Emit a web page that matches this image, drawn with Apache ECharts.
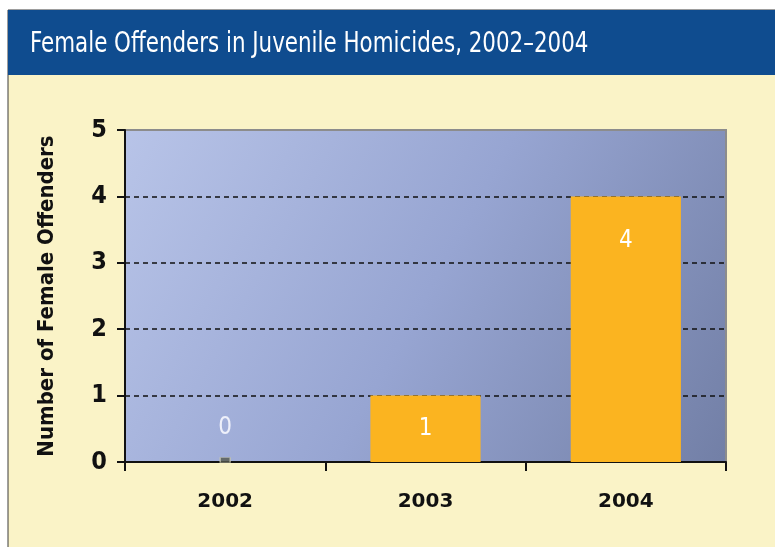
<!DOCTYPE html>
<html><head><meta charset="utf-8">
<script src="https://cdn.jsdelivr.net/npm/echarts@6/dist/echarts.min.js"></script>
<style>html,body{margin:0;padding:0;background:#fff}#c{width:775px;height:547px}</style>
</head><body><div id="c"></div>
<script>
const titleText = 'Female Offenders in Juvenile Homicides, 2002\u20132004';
const yAxisName = 'Number of Female Offenders';
const categories = ['2002', '2003', '2004'];
const offenders = [0, 1, 4];
const yTicks = [0, 1, 2, 3, 4, 5];

const narrow = '"DejaVu Sans Condensed", "Liberation Sans Narrow", "Open Sans", sans-serif';
const chart = echarts.init(document.getElementById('c'));

const labelCfg = [
  {position: 'top', distance: 22, color: '#eef0fa'},
  {position: 'inside', color: '#ffffff'},
  {position: 'insideTop', distance: 32, color: '#ffffff'}
];

chart.setOption({
  backgroundColor: '#ffffff',
  animation: false,
  graphic: [
    {type: 'rect', z: -10, shape: {x: 8, y: 10, width: 770, height: 540}, style: {fill: '#FAF3C7', stroke: '#3a3a3a', lineWidth: 1}},
    {type: 'rect', z: -9, shape: {x: 8, y: 10, width: 770, height: 65}, style: {fill: '#0F4C8F'}},
    {type: 'text', z: 5, x: 30, y: 45, scaleX: 0.85, style: {text: titleText, fill: '#ffffff', font: '28px ' + narrow, textVerticalAlign: 'middle'}}
  ],
  grid: {
    left: 125, right: 49, top: 130, bottom: 85,
    show: true,
    borderColor: '#8c8c8c', borderWidth: 2,
    backgroundColor: new echarts.graphic.LinearGradient(0, 0, 1, 1, [
      {offset: 0, color: '#B8C4E8'},
      {offset: 0.5, color: '#97A5D2'},
      {offset: 1, color: '#727FA6'}
    ])
  },
  xAxis: {
    type: 'category',
    data: categories,
    axisLine: {lineStyle: {color: '#111', width: 2}},
    axisTick: {show: true, length: 9, lineStyle: {color: '#111', width: 2}},
    axisLabel: {color: '#111', fontSize: 20, fontWeight: 'bold', fontFamily: '"DejaVu Sans", Verdana, sans-serif', margin: 30}
  },
  yAxis: {
    type: 'value',
    min: yTicks[0], max: yTicks[yTicks.length - 1], interval: 1,
    name: yAxisName,
    nameLocation: 'middle',
    nameGap: 67,
    nameRotate: 90,
    nameTextStyle: {color: '#111', fontSize: 22, fontWeight: 'bold', fontFamily: narrow},
    axisLine: {show: true, lineStyle: {color: '#111', width: 2}},
    axisTick: {show: true, length: 8, lineStyle: {color: '#111', width: 2}},
    axisLabel: {color: '#111', fontSize: 25, fontWeight: 'bold', fontFamily: narrow, margin: 18},
    splitLine: {show: true, showMinLine: false, showMaxLine: false, lineStyle: {color: '#111', type: [5, 4], width: 1.5}}
  },
  series: [
    {
      type: 'bar',
      barWidth: '55%',
      itemStyle: {color: '#FBB420'},
      data: offenders.map((v, i) => ({
        value: v,
        label: Object.assign({show: true, fontSize: 24, fontFamily: narrow, formatter: '{c}'}, labelCfg[i])
      })),
      z: 3
    },
    {
      type: 'scatter',
      symbol: 'rect',
      symbolSize: [10, 5],
      symbolOffset: [0, -2],
      itemStyle: {color: '#55594f', borderColor: '#c8c8b0', borderWidth: 1},
      data: offenders.map((v, i) => v === 0 ? [categories[i], v] : null).filter(d => d),
      z: 4
    }
  ]
});
</script></body></html>
